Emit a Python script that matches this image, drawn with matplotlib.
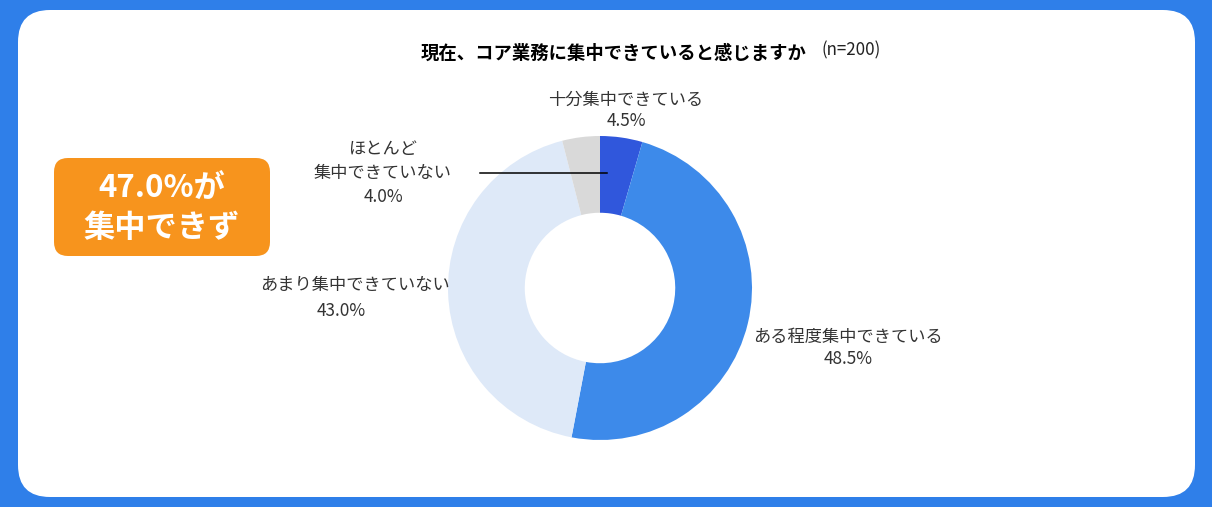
import matplotlib.pyplot as plt
from matplotlib.patches import FancyBboxPatch

plt.rcParams['font.family'] = ['Noto Sans CJK JP', 'DejaVu Sans']

# データ
title = '現在、コア業務に集中できていると感じますか'
n_label = '(n=200)'
categories = ['十分集中できている', 'ある程度集中できている', 'あまり集中できていない', 'ほとんど\n集中できていない']
values = [4.5, 48.5, 43.0, 4.0]
colors = ['#3057DC', '#3D8AEA', '#DEE9F8', '#D9D9D9']
highlight = '47.0%が\n集中できず'

W, H = 1212, 507
fig = plt.figure(figsize=(W / 100, H / 100), dpi=100)
fig.patch.set_facecolor('#2F7FE9')
ax = fig.add_axes([0, 0, 1, 1])
ax.set_xlim(0, W)
ax.set_ylim(0, H)
ax.set_aspect('equal')
ax.axis('off')


def py(y):
    # 画像のピクセル座標 -> データ座標
    return H - y


# 白いカード
card = FancyBboxPatch((18, py(497)), 1177, 487, boxstyle='round,pad=0,rounding_size=32',
                      facecolor='white', edgecolor='none', zorder=1)
ax.add_patch(card)

# ドーナツ
cx, cy, r = 600, py(288), 152
ax.pie(values, colors=colors, startangle=90, counterclock=False,
       center=(cx, cy), radius=r, frame=True,
       wedgeprops=dict(width=r * 0.505, edgecolor='none', zorder=2))
ax.set_xlim(0, W)
ax.set_ylim(0, H)
ax.axis('off')

# タイトル
ax.text(614, py(53), title, ha='center', va='center', fontsize=13.2, fontweight='bold', zorder=5)
ax.text(851, py(50), n_label, ha='center', va='center', fontsize=12.2, zorder=5, color='#222222')

# ラベル
lab = dict(ha='center', va='center', fontsize=12.4, color='#333333', zorder=5)
ax.text(626, py(100), categories[0], **lab)
ax.text(626, py(121), f'{values[0]}%', **lab)
ax.text(848, py(337), categories[1], **lab)
ax.text(848, py(359), f'{values[1]}%', **lab)
ax.text(355, py(285), categories[2], **lab)
ax.text(341, py(311), f'{values[2]}%', **lab)
ax.text(383, py(173), categories[3] + f'\n{values[3]}%', linespacing=1.4, **lab)

# 引き出し線
ax.plot([480, 607], [py(173), py(173)], color='black', lw=1.1, zorder=6)

# オレンジのボックス
box = FancyBboxPatch((54, py(256)), 216, 98, boxstyle='round,pad=0,rounding_size=14',
                     facecolor='#F7941D', edgecolor='none', zorder=4)
ax.add_patch(box)
ax.text(162, py(208), highlight, ha='center', va='center', fontsize=22.5,
        fontweight='bold', color='white', linespacing=1.35, zorder=5)

fig.savefig('out.png', dpi=100, facecolor=fig.get_facecolor())
